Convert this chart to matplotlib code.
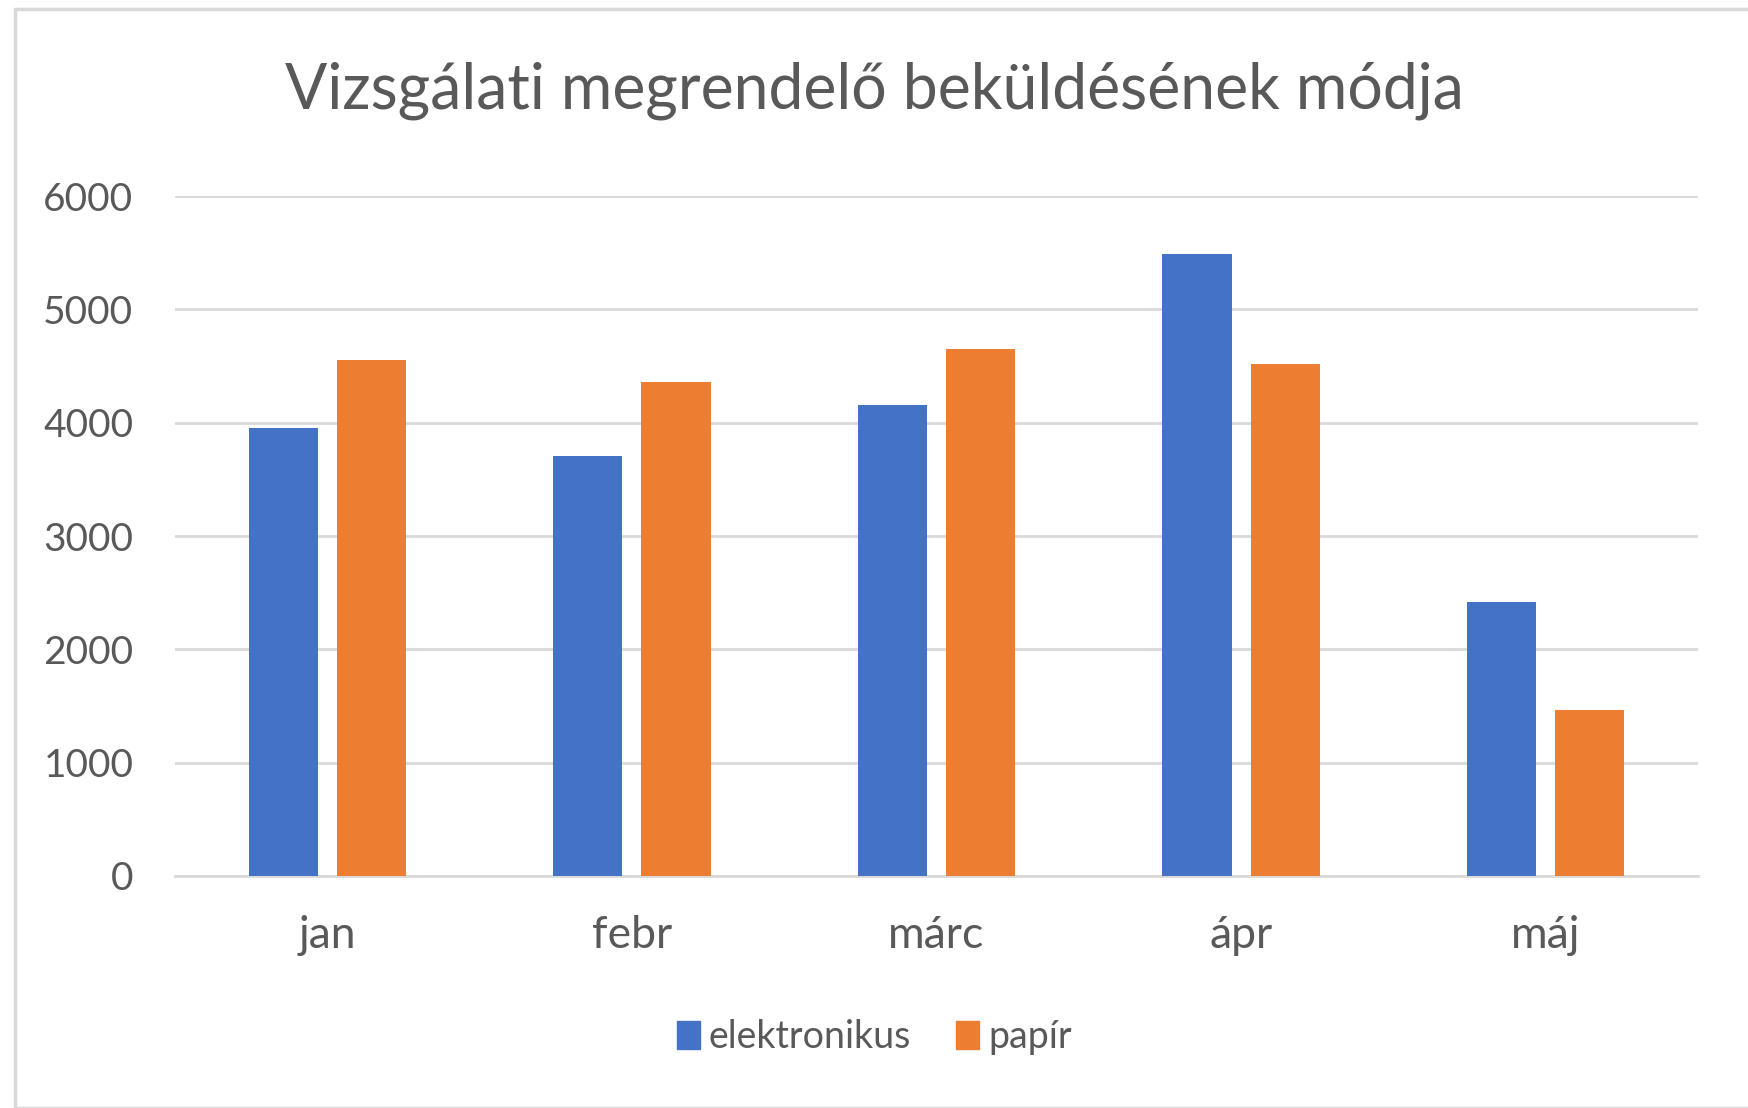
import numpy as np
import matplotlib
matplotlib.use('Agg')
import matplotlib.pyplot as plt
from matplotlib.patches import Rectangle, Patch

months = ['jan', 'febr', 'márc', 'ápr', 'máj']
elektronikus = [3950, 3710, 4155, 5490, 2415]
papir = [4555, 4355, 4650, 4515, 1467]
series_names = ['elektronikus', 'papír']
yticks = [0, 1000, 2000, 3000, 4000, 5000, 6000]

blue = '#4472C4'
orange = '#ED7D31'
text_col = '#595959'
grid_col = '#D9D9D9'

plt.rcParams['font.family'] = ['Lato', 'DejaVu Sans']

fig = plt.figure(figsize=(17.49, 11.08), dpi=100)
# outer chart border
fig.patches.append(Rectangle((15 / 1749, 0), 1 - 15 / 1749 + 0.01, 1 - 9 / 1108,
                             transform=fig.transFigure, fill=False,
                             edgecolor=grid_col, linewidth=2.5))

ax = fig.add_axes([175 / 1749, 1 - 876 / 1108, 1523 / 1749, 680 / 1108])
x = np.arange(len(months))
w = 0.227
off = 0.145
ax.bar(x - off, elektronikus, width=w, color=blue, zorder=3, label=series_names[0])
ax.bar(x + off, papir, width=w, color=orange, zorder=3, label=series_names[1])

ax.set_xlim(-0.5, len(months) - 0.5)
ax.set_ylim(0, 6000)
ax.set_yticks(yticks)
ax.set_yticklabels([str(v) for v in yticks])
ax.set_xticks(x)
ax.set_xticklabels(months)
ax.yaxis.grid(True, color=grid_col, linewidth=2, zorder=0)
ax.set_axisbelow(True)
for s in ['top', 'right', 'left']:
    ax.spines[s].set_visible(False)
ax.spines['bottom'].set_color(grid_col)
ax.spines['bottom'].set_linewidth(2)
ax.tick_params(axis='both', length=0, labelcolor=text_col)
ax.tick_params(axis='y', pad=30, labelsize=28)
ax.tick_params(axis='x', pad=28, labelsize=32)

fig.text(0.5, 1 - 91 / 1108, 'Vizsgálati megrendelő beküldésének módja',
         ha='center', va='center', fontsize=45, color=text_col)

handles = [Patch(color=blue), Patch(color=orange)]
fig.legend(handles, series_names, loc='center', bbox_to_anchor=(0.5, 1 - 1037 / 1108),
           ncol=2, frameon=False, fontsize=27, labelcolor=text_col,
           handlelength=0.6, handleheight=0.75, handletextpad=0.25, columnspacing=1.2)

fig.savefig('out.png', dpi=100, facecolor='white')
